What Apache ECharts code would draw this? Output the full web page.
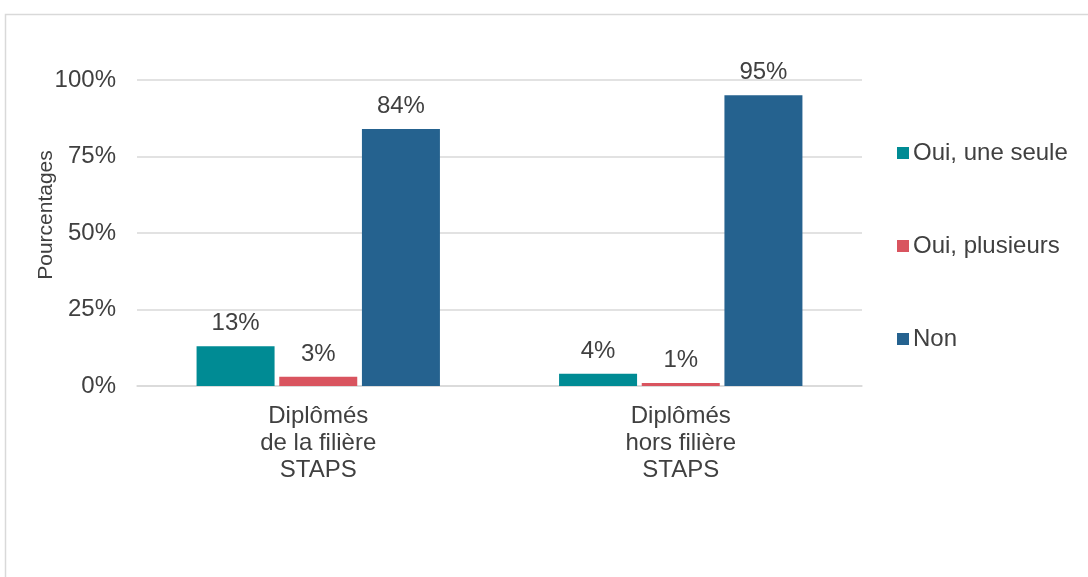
<!DOCTYPE html>
<html><head><meta charset="utf-8">
<script src="https://cdn.jsdelivr.net/npm/echarts@6/dist/echarts.min.js"></script>
<style>html,body{margin:0;padding:0;background:#fff}#c{width:1088px;height:577px}</style>
</head><body><div id="c"></div>
<script>
const categories = ['Diplômés\nde la filière\nSTAPS', 'Diplômés\nhors filière\nSTAPS'];
const seriesNames = ['Oui, une seule', 'Oui, plusieurs', 'Non'];
const ouiUneSeule = [13, 4];
const ouiPlusieurs = [3, 1];
const non = [84, 95];
const colors = ['#008B94', '#D9545F', '#25628F'];
const font = '"Liberation Sans", Arial, sans-serif';
const txt = '#404040';
const values = [ouiUneSeule, ouiPlusieurs, non];
const chart = echarts.init(document.getElementById('c'));
chart.setOption({
  animation: false,
  textStyle: {fontFamily: font},
  graphic: [{type: 'rect', shape: {x: 5.5, y: 14.5, width: 1200, height: 700}, style: {fill: 'none', stroke: '#d9d9d9', lineWidth: 1.5}, silent: true}],
  legend: {
    orient: 'vertical', left: 897, top: 141, padding: 0, itemWidth: 12, itemHeight: 12, itemGap: 69,
    icon: 'rect', textStyle: {fontSize: 24, color: txt, fontFamily: font, padding: [0,0,0,-1]},
    data: seriesNames
  },
  grid: {left: 137, right: 226, top: 80, bottom: 191},
  xAxis: {
    type: 'category', data: categories,
    axisLine: {lineStyle: {color: '#d9d9d9', width: 1.5}}, axisTick: {show: false},
    axisLabel: {fontSize: 24, color: txt, lineHeight: 27, margin: 17, fontFamily: font}
  },
  yAxis: {
    type: 'value', min: 0, max: 100, interval: 25,
    name: 'Pourcentages', nameLocation: 'middle', nameGap: 80, nameRotate: 90, nameMoveOverlap: false,
    nameTextStyle: {fontSize: 21, color: txt, fontFamily: font, padding: [0,0,0,36]},
    axisLabel: {formatter: '{value}%', fontSize: 24, color: txt, margin: 21, fontFamily: font},
    splitLine: {lineStyle: {color: '#d9d9d9', width: 1.5}}
  },
  series: seriesNames.map((n, i) => ({
    name: n, type: 'bar', data: values[i], barWidth: 78, barGap: '6%',
    itemStyle: {color: colors[i]},
    label: {show: true, position: 'top', distance: 10.5, formatter: '{c}%', fontSize: 24, color: txt, fontFamily: font}
  }))
});
</script></body></html>
